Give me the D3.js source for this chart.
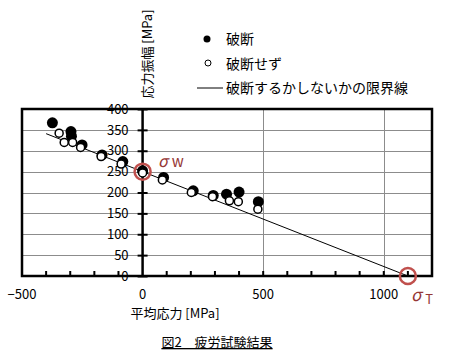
<!DOCTYPE html>
<html>
<head>
  <meta charset="UTF-8">
  <title>疲労試験結果</title>
  <script src="https://d3js.org/d3.v7.min.js"></script>
  <style>
    body { margin: 0; background: #fff; }
    text { font-family: "Noto Sans CJK JP", "Noto Sans", sans-serif; }
  </style>
</head>
<body>
  <svg width="453" height="363"></svg>

  <script>
    // 破断 (filled)
    const brokenX = [-374, -297, -295, -251, -168, -82, 0, 87, 210, 293, 348, 400, 480];
    const brokenY = [367, 346, 335, 314, 290, 274, 252, 236, 204, 193, 196, 201, 178];
    // 破断せず (open)
    const unbrokenX = [-346, -325, -290, -257, -172, -89, 0, 82, 202, 290, 360, 397, 478];
    const unbrokenY = [342, 320, 320, 308, 286, 268, 247, 230, 200, 190, 180, 178, 160];
    // 限界線 (Goodman line)
    const sigmaW = 250, sigmaT = 1100;
    const limitX = [-400, sigmaT];
    const limitY = [sigmaW * (1 + 400 / sigmaT), 0];

    const xTicks = [-500, 0, 500, 1000];
    const yTicks = [0, 50, 100, 150, 200, 250, 300, 350, 400];

    const svg = d3.select("svg");
    const x = d3.scaleLinear().domain([-500, 1200]).range([22, 432]);
    const y = d3.scaleLinear().domain([0, 400]).range([276, 109]);

    // grid
    svg.append("g")
      .attr("stroke", "#8c8c8c")
      .attr("stroke-width", 1)
      .selectAll("line")
      .data(yTicks.slice(1, -1))
      .join("line")
      .attr("x1", x(-500)).attr("x2", x(1200))
      .attr("y1", d => Math.round(y(d)) + 0.5).attr("y2", d => Math.round(y(d)) + 0.5);

    svg.append("g")
      .attr("stroke", "#8c8c8c")
      .selectAll("line")
      .data([500, 1000])
      .join("line")
      .attr("x1", d => Math.round(x(d)) + 0.5).attr("x2", d => Math.round(x(d)) + 0.5)
      .attr("y1", y(400)).attr("y2", y(0));

    // minor ticks on x (inside)
    svg.append("g")
      .attr("stroke", "#000")
      .attr("stroke-width", 2)
      .selectAll("line")
      .data(d3.range(-400, 1200, 100).filter(d => d !== 0))
      .join("line")
      .attr("x1", d => x(d)).attr("x2", d => x(d))
      .attr("y1", y(0)).attr("y2", y(0) - 5);

    // y axis at x = 0
    const yAxis = svg.append("g")
      .attr("transform", `translate(${x(0)},0)`)
      .call(d3.axisLeft(y).tickValues(yTicks).tickSize(5).tickPadding(3));
    yAxis.select(".domain").remove();
    yAxis.selectAll(".tick line").attr("x2", 5).attr("x1", -5).attr("stroke-width", 2);
    yAxis.selectAll(".tick text").attr("x", -14).attr("font-size", 13)
      .attr("font-family", "\"Noto Sans CJK JP\", sans-serif").attr("fill", "#000");
    svg.append("line")
      .attr("x1", x(0)).attr("x2", x(0))
      .attr("y1", y(400)).attr("y2", y(0))
      .attr("stroke", "#000").attr("stroke-width", 2.5);

    // x axis labels
    svg.append("g")
      .attr("font-size", 13)
      .attr("text-anchor", "middle")
      .selectAll("text")
      .data(xTicks)
      .join("text")
      .attr("x", d => x(d))
      .attr("y", 299)
      .text(d => d < 0 ? "\u2212" + Math.abs(d) : d);

    // plot border
    svg.append("rect")
      .attr("x", x(-500)).attr("y", y(400))
      .attr("width", x(1200) - x(-500)).attr("height", y(0) - y(400))
      .attr("fill", "none").attr("stroke", "#000").attr("stroke-width", 2.5);

    // limit line
    svg.append("line")
      .attr("x1", x(limitX[0])).attr("y1", y(limitY[0]))
      .attr("x2", x(limitX[1])).attr("y2", y(limitY[1]))
      .attr("stroke", "#000").attr("stroke-width", 1);

    // markers
    svg.append("g")
      .selectAll("circle")
      .data(brokenX.map((d, i) => [d, brokenY[i]]))
      .join("circle")
      .attr("cx", d => x(d[0])).attr("cy", d => y(d[1]))
      .attr("r", 5.5).attr("fill", "#000");

    svg.append("g")
      .selectAll("circle")
      .data(unbrokenX.map((d, i) => [d, unbrokenY[i]]))
      .join("circle")
      .attr("cx", d => x(d[0])).attr("cy", d => y(d[1]))
      .attr("r", 4).attr("fill", "#fff").attr("stroke", "#000").attr("stroke-width", 1.5);

    // sigma markers
    svg.append("g")
      .attr("fill", "none").attr("stroke", "#c0504d").attr("stroke-width", 2.5)
      .selectAll("circle")
      .data([[0, sigmaW], [sigmaT, 0]])
      .join("circle")
      .attr("cx", d => x(d[0])).attr("cy", d => y(d[1]))
      .attr("r", 8);

    svg.append("text")
      .attr("x", 158).attr("y", 167)
      .attr("fill", "#953735").attr("font-size", 16)
      .html('<tspan font-style="italic">σ</tspan><tspan dx="4" font-size="15">w</tspan>');

    svg.append("text")
      .attr("x", 411).attr("y", 301)
      .attr("fill", "#953735").attr("font-size", 17)
      .html('<tspan font-style="italic">σ</tspan><tspan dx="4" dy="3" font-size="13">T</tspan>');

    // axis titles
    svg.append("text")
      .attr("transform", "translate(152,54) rotate(-90)")
      .attr("text-anchor", "middle")
      .attr("font-size", 13)
      .text("応力振幅 [MPa]");

    svg.append("text")
      .attr("x", 175).attr("y", 318)
      .attr("text-anchor", "middle")
      .attr("font-size", 13)
      .text("平均応力 [MPa]");

    svg.append("text")
      .attr("x", 217).attr("y", 347)
      .attr("text-anchor", "middle")
      .attr("font-size", 13)
      .attr("text-decoration", "underline")
      .text("図2　疲労試験結果");

    // legend
    const legend = svg.append("g").attr("font-size", 14);
    legend.append("circle").attr("cx", 207).attr("cy", 39).attr("r", 3.5).attr("fill", "#000");
    legend.append("circle").attr("cx", 208).attr("cy", 63).attr("r", 3)
      .attr("fill", "#fff").attr("stroke", "#000").attr("stroke-width", 1);
    legend.append("line").attr("x1", 197).attr("x2", 223).attr("y1", 88).attr("y2", 88)
      .attr("stroke", "#000");
    legend.selectAll("text")
      .data(["破断", "破断せず", "破断するかしないかの限界線"])
      .join("text")
      .attr("x", 226)
      .attr("y", (d, i) => 44 + i * 24.5)
      .text(d => d);
  </script>
</body>
</html>
